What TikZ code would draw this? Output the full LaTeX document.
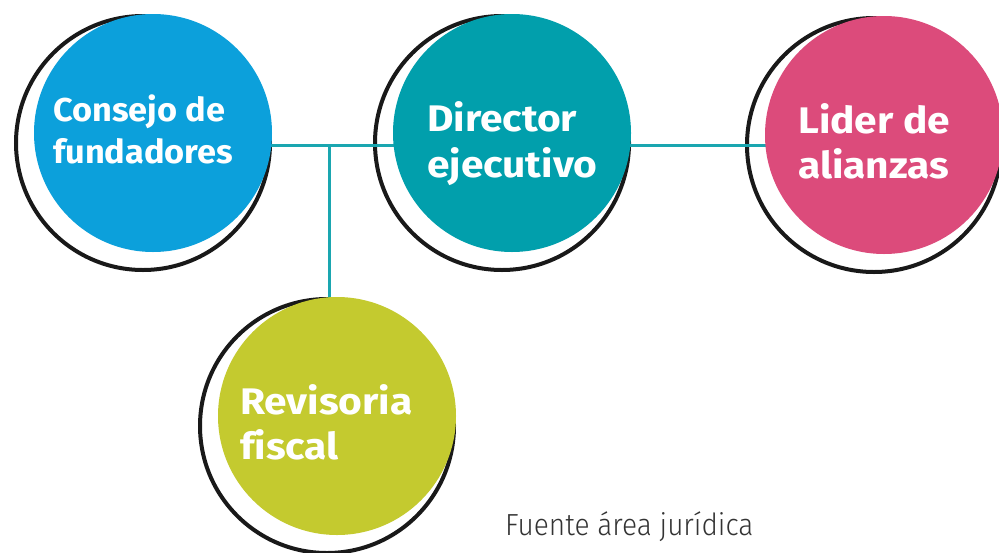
\documentclass[tikz,border=0pt]{standalone}
\usepackage{fontspec}
\setmainfont{Fira Sans}[Ligatures=NoCommon]
\newfontfamily\bigfont{Fira Sans}[Ligatures=NoCommon,FakeStretch=1.1]
\newfontfamily\smallfont{Fira Sans}[Ligatures=NoCommon,FakeStretch=1.04]
\newfontfamily\srcfont{Fira Sans Light}[FakeStretch=0.92]
\definecolor{cblue}{HTML}{0CA0DB}
\definecolor{cteal}{HTML}{019FAC}
\definecolor{cpink}{HTML}{DC4B7B}
\definecolor{cgreen}{HTML}{C4CA2F}
\definecolor{cline}{HTML}{1AA6B0}
\definecolor{ctext}{HTML}{333333}
\begin{document}
\begin{tikzpicture}[x=1pt,y=-1pt,
  ring/.style={circle,draw=black!90,line width=4pt,fill=white,minimum size=254pt,inner sep=0pt},
  disc/.style={circle,minimum size=238pt,inner sep=0pt},
  conn/.style={draw=cline,line width=3pt},
  lbl/.style={anchor=base west,text=white,font=\fontsize{37}{42}\bigfont\bfseries,inner sep=0pt},
  lbls/.style={anchor=base west,text=white,font=\fontsize{33}{40}\smallfont\bfseries,inner sep=0pt},
  src/.style={anchor=base west,text=ctext,font=\fontsize{30.5}{34}\srcfont,inner sep=0pt}]
\useasboundingbox (0,0) rectangle (999,552);
% rings
\node[ring] (r1) at (143,143) {};
\node[ring] (r2) at (502,143) {};
\node[ring] (r3) at (874,145) {};
\node[ring] (r4) at (327,426) {};
% positions of the discs
\coordinate (j) at (329,145);
\node[disc] (b1) at (153,133) {};
\node[disc] (b2) at (512,133) {};
\node[disc] (b3) at (884,135) {};
\node[disc] (b4) at (337,416) {};
% connectors
\draw[conn] (b1.center |- j) -- (b3.center |- j);
\draw[conn] (j) -- (j |- b4.center);
% discs
\node[disc,fill=cblue] at (b1) {};
\node[disc,fill=cteal] at (b2) {};
\node[disc,fill=cpink] at (b3) {};
\node[disc,fill=cgreen] at (b4) {};
% labels
\node[lbls] (t1a) at (53,121) {Consejo de};
\node[lbls] (t1b) at (53,163) {fundadores};
\node[lbl] (t2a) at (427,131) {Director};
\node[lbl] (t2b) at (427,177) {ejecutivo};
\node[lbl] (t3a) at (798,133) {Lider de};
\node[lbl] (t3b) at (798,178) {alianzas};
\node[lbl] (t4a) at (240,414) {Revisoria};
\node[lbl] (t4b) at (240,459) {fiscal};
\node[src] (s) at (505,535) {Fuente área jurídica};
\end{tikzpicture}
\end{document}
